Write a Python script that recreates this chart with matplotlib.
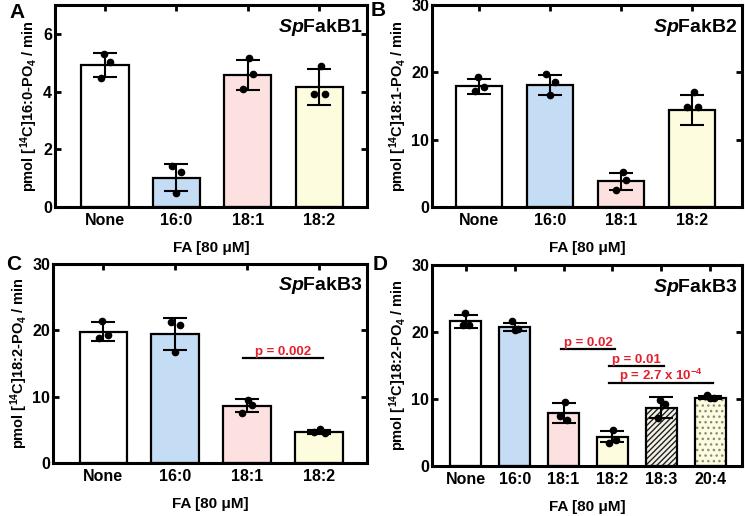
import matplotlib
matplotlib.use("Agg")
import matplotlib.pyplot as plt
import numpy as np

plt.rcParams['font.family'] = ['Liberation Sans', 'DejaVu Sans']
plt.rcParams['font.weight'] = 'bold'
plt.rcParams['mathtext.fontset'] = 'custom'
plt.rcParams['mathtext.rm'] = 'Liberation Sans:bold'
plt.rcParams['mathtext.it'] = 'Liberation Sans:italic:bold'
plt.rcParams['mathtext.bf'] = 'Liberation Sans:bold'
plt.rcParams['hatch.linewidth'] = 1.0

# ---------------- data ----------------
cats4 = ['None', '16:0', '18:1', '18:2']
cats6 = ['None', '16:0', '18:1', '18:2', '18:3', '20:4']

A_mean = [4.92, 1.02, 4.58, 4.16]
A_sd = [0.42, 0.47, 0.53, 0.61]
A_pts = [[5.30, 5.01, 4.46], [1.42, 1.22, 0.49], [5.15, 4.60, 4.08], [4.90, 3.93, 3.90]]

B_mean = [17.9, 18.15, 3.8, 14.4]
B_sd = [1.05, 1.5, 1.3, 2.2]
B_pts = [[19.3, 17.8, 17.25], [19.8, 18.5, 16.65], [5.2, 4.05, 2.5], [17.1, 14.8, 14.8]]

C_mean = [19.8, 19.5, 8.6, 4.7]
C_sd = [1.4, 2.4, 0.98, 0.3]
C_pts = [[21.4, 19.3, 18.9], [21.2, 20.8, 16.8], [9.5, 8.8, 7.6], [5.1, 4.6, 4.5]]

D_mean = [21.6, 20.8, 7.9, 4.4, 8.7, 10.2]
D_sd = [1.0, 0.6, 1.5, 0.85, 1.55, 0.25]
D_pts = [[22.9, 21.0, 21.0], [21.7, 20.5, 20.3], [9.5, 6.8, 7.5],
         [5.3, 3.4, 3.9], [9.9, 9.3, 7.1], [10.55, 10.2, 10.1]]

C_sig = [(2, 3, 15.9, 'p = 0.002')]
D_sig = [(2, 3, 17.4, 'p = 0.02'), (3, 4, 14.95, 'p = 0.01'),
         (3, 5, 12.35, 'p = 2.7 x 10$^{-4}$')]

# ---------------- style ----------------
colors = ['#ffffff', '#c4dcf4', '#fde1e1', '#fefcdf', '#f4f1e6', '#fefcdf']
hatches = [None, None, None, None, '//////', '...']
hatch_cols = [None, None, None, None, '#222222', '#8a8a7a']
jit = [[-0.02, 0.07, -0.06], [-0.06, 0.07, 0.0], [0.02, 0.07, -0.07], [0.02, -0.07, 0.08],
       [-0.02, 0.07, -0.06], [-0.06, 0.07, 0.0]]
red = '#e3202b'

fig = plt.figure(figsize=(7.45, 5.16), dpi=100)
W, H = 745, 516


def make_ax(l, r, t, b):
    return fig.add_axes([l / W, (H - b) / H, (r - l) / W, (b - t) / H])


def panel(ax, cats, mean, sd, pts, ylim, yticks, title, ylabel, width, xpad, sig=None):
    x = np.arange(len(cats))
    for i in x:
        if hatches[i]:
            ax.bar(i, mean[i], width=width, color=colors[i], edgecolor=hatch_cols[i],
                   linewidth=0, hatch=hatches[i], zorder=2)
            ax.bar(i, mean[i], width=width, fill=False, edgecolor='black',
                   linewidth=1.6, zorder=2)
        else:
            ax.bar(i, mean[i], width=width, color=colors[i], edgecolor='black',
                   linewidth=1.6, zorder=2)
    ax.errorbar(x, mean, yerr=sd, fmt='none', ecolor='black', elinewidth=1.5,
                capsize=width * 13, capthick=1.5, zorder=3)
    for i in x:
        ax.plot(i + np.array(jit[i]), pts[i], 'o', color='black', ms=4.5, zorder=4)
    ax.set_xlim(-xpad[0], len(cats) - 1 + xpad[1])
    ax.set_ylim(*ylim)
    ax.set_yticks(yticks)
    ax.set_xticks(x)
    ax.set_xticklabels(cats, fontsize=11.5, fontweight='bold')
    ax.tick_params(axis='y', labelsize=11.5, direction='in', length=4, width=2,
                   right=True, pad=2)
    ax.tick_params(axis='x', direction='in', length=4, width=2, top=True, pad=4)
    for lab in ax.get_yticklabels():
        lab.set_fontweight('bold')
    for s in ax.spines.values():
        s.set_linewidth(2.2)
    ax.set_ylabel(ylabel, fontsize=10.5, fontweight='bold', labelpad=2)
    ax.set_xlabel('FA [80 \u03bcM]', fontsize=11, fontweight='bold', labelpad=10)
    ax.text(0.987, 0.89, title, transform=ax.transAxes, ha='right', va='center',
            fontsize=14, fontweight='bold')
    if sig:
        for a, b, y, txt in sig:
            ax.plot([a - 0.06, b + 0.06], [y, y], color='black', lw=1.6, zorder=3)
            ax.text((a + b) / 2, y + 0.45, txt, ha='center', va='baseline', color=red,
                    fontsize=9.5, fontweight='bold')


axA = make_ax(55, 367, 5, 207)
axB = make_ax(432, 742, 5, 207)
axC = make_ax(53, 367, 264, 463)
axD = make_ax(432, 742, 265, 466)

panel(axA, cats4, A_mean, A_sd, A_pts, (0, 7), [0, 2, 4, 6], '$\\it{Sp}$FakB1',
      'pmol [$^{14}$C]16:0-PO$_4$ / min', 0.66, (0.70, 0.67))
panel(axB, cats4, B_mean, B_sd, B_pts, (0, 30), [0, 10, 20, 30], '$\\it{Sp}$FakB2',
      'pmol [$^{14}$C]18:1-PO$_4$ / min', 0.64, (0.66, 0.70))
panel(axC, cats4, C_mean, C_sd, C_pts, (0, 30), [0, 10, 20, 30], '$\\it{Sp}$FakB3',
      'pmol [$^{14}$C]18:2-PO$_4$ / min', 0.66, (0.70, 0.67), C_sig)
panel(axD, cats6, D_mean, D_sd, D_pts, (0, 30), [0, 10, 20, 30], '$\\it{Sp}$FakB3',
      'pmol [$^{14}$C]18:2-PO$_4$ / min', 0.64, (0.69, 0.65), D_sig)

for lbl, x, y in [('A', 17, 13), ('B', 378, 11), ('C', 14, 265), ('D', 380, 264)]:
    fig.text(x / W, 1 - y / H, lbl, ha='center', va='center', fontsize=15, fontweight='bold')

fig.savefig('out.png', dpi=100)
